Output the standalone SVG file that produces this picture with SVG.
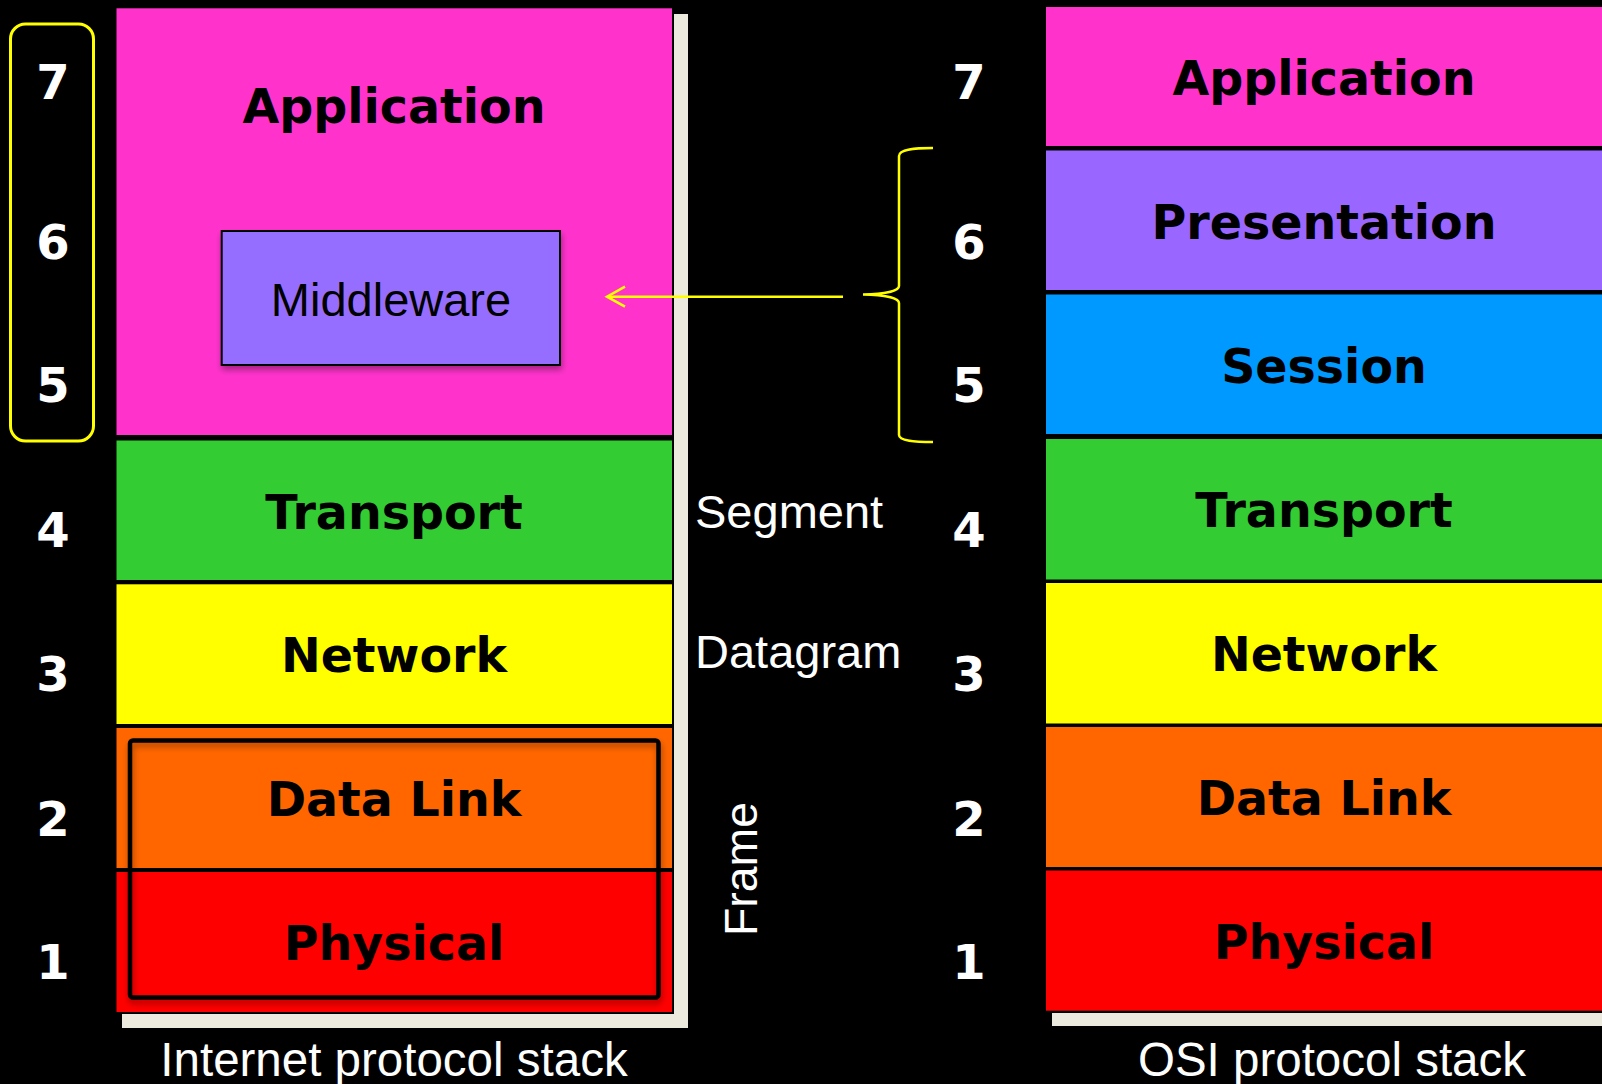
<svg xmlns="http://www.w3.org/2000/svg" width="1602" height="1084" viewBox="0 0 1602 1084">
  <defs>
    <style>
      .layer-label { font-family: "DejaVu Sans", Verdana, sans-serif; font-weight: bold; font-size: 47.5px; fill: #000; text-anchor: middle; }
      .num { font-family: "DejaVu Sans", Verdana, sans-serif; font-weight: bold; font-size: 48px; fill: #fff; text-anchor: middle; }
      .side { font-family: "Liberation Sans", Arial, sans-serif; font-size: 47px; fill: #fff; }
      .caption { font-family: "Liberation Sans", Arial, sans-serif; font-size: 47.5px; fill: #fff; text-anchor: middle; }
      .panel { fill: #ECE9DE; }
      .app { fill: #FF33CC; }
      .pres { fill: #9966FF; }
      .sess { fill: #0099FF; }
      .trans { fill: #33CC33; }
      .net { fill: #FFFF00; }
      .link { fill: #FF6600; }
      .phys { fill: #FF0000; }
      .yellow-line { fill: none; stroke: #FFFF00; stroke-width: 2.5; }
    </style>
    <filter id="shadow" x="-10%" y="-10%" width="120%" height="130%">
      <feDropShadow dx="1" dy="4" stdDeviation="3" flood-color="#000" flood-opacity="0.35"/>
    </filter>
    <marker id="open-arrow" markerUnits="userSpaceOnUse" markerWidth="24" markerHeight="24" viewBox="-20 -12 24 24" refX="0" refY="0" orient="auto">
      <path d="M -18 -10 L 0 0 L -18 10" fill="none" stroke="#FFFF00" stroke-width="2.5"/>
    </marker>
  </defs>

  <rect width="1602" height="1084" fill="#000"/>

  <!-- Internet protocol stack -->
  <g id="internet-stack">
    <rect class="panel" x="122" y="14" width="566" height="1014"/>
    <!-- black backing shows through as the rules between layers -->
    <rect x="114.5" y="6.5" width="559.5" height="1007.5" fill="#000"/>
    <g id="inet-application">
      <rect class="app" x="116.5" y="8.3" width="555.5" height="426.7"/>
      <text class="layer-label" x="394" y="123">Application</text>
    </g>
    <g id="middleware">
      <rect x="221.7" y="231" width="338.3" height="134" fill="#966EFF" stroke="#000" stroke-width="2" filter="url(#shadow)"/>
      <text x="391" y="316" font-family="'Liberation Sans', Arial, sans-serif" font-size="47" fill="#000" text-anchor="middle">Middleware</text>
    </g>
    <g id="inet-transport">
      <rect class="trans" x="116.5" y="440.5" width="555.5" height="139.5"/>
      <text class="layer-label" x="394" y="528.5">Transport</text>
    </g>
    <g id="inet-network">
      <rect class="net" x="116.5" y="584.3" width="555.5" height="139.7"/>
      <text class="layer-label" x="394" y="672.3">Network</text>
    </g>
    <g id="inet-datalink">
      <rect class="link" x="116.5" y="728" width="555.5" height="140"/>
      <text class="layer-label" x="394" y="816">Data Link</text>
    </g>
    <g id="inet-physical">
      <rect class="phys" x="116.5" y="872" width="555.5" height="140"/>
      <text class="layer-label" x="394" y="960">Physical</text>
    </g>
    <g id="host-to-network">
      <rect x="130" y="740.5" width="528.5" height="257" rx="3" fill="none" stroke="#000" stroke-width="4.5" filter="url(#shadow)"/>
    </g>
    <text class="caption" x="394" y="1076">Internet protocol stack</text>
  </g>

  <!-- Layer numbers, left -->
  <g id="left-numbers">
    <rect x="10.5" y="24" width="83" height="417" rx="15" fill="none" stroke="#FFFF00" stroke-width="3"/>
    <text class="num" x="53" y="98.5">7</text>
    <text class="num" x="53" y="258.5">6</text>
    <text class="num" x="53" y="402.3">5</text>
    <text class="num" x="53" y="546.5">4</text>
    <text class="num" x="53" y="691">3</text>
    <text class="num" x="53" y="836">2</text>
    <text class="num" x="53" y="979">1</text>
  </g>

  <!-- PDU names -->
  <g id="pdu-labels">
    <text class="side" x="695" y="528">Segment</text>
    <text class="side" x="695" y="668">Datagram</text>
    <text class="side" transform="translate(757 936) rotate(-90)" font-size="48" textLength="134" lengthAdjust="spacingAndGlyphs">Frame</text>
  </g>

  <!-- Layer numbers, right -->
  <g id="right-numbers">
    <text class="num" x="969" y="98.5">7</text>
    <text class="num" x="969" y="258.5">6</text>
    <text class="num" x="969" y="402.3">5</text>
    <text class="num" x="969" y="546.5">4</text>
    <text class="num" x="969" y="691">3</text>
    <text class="num" x="969" y="836">2</text>
    <text class="num" x="969" y="979">1</text>
  </g>

  <!-- OSI protocol stack -->
  <g id="osi-stack">
    <rect class="panel" x="1052" y="13" width="550" height="1013"/>
    <rect x="1044" y="5" width="558" height="1008" fill="#000"/>
    <g id="osi-application">
      <rect class="app" x="1046" y="7" width="556" height="139"/>
      <text class="layer-label" x="1324" y="95">Application</text>
    </g>
    <g id="osi-presentation">
      <rect class="pres" x="1046" y="150.5" width="556" height="139.5"/>
      <text class="layer-label" x="1324" y="238.5">Presentation</text>
    </g>
    <g id="osi-session">
      <rect class="sess" x="1046" y="294.5" width="556" height="139.5"/>
      <text class="layer-label" x="1324" y="382.5">Session</text>
    </g>
    <g id="osi-transport">
      <rect class="trans" x="1046" y="439" width="556" height="140.5"/>
      <text class="layer-label" x="1324" y="527.3">Transport</text>
    </g>
    <g id="osi-network">
      <rect class="net" x="1046" y="583" width="556" height="140.5"/>
      <text class="layer-label" x="1324" y="671.3">Network</text>
    </g>
    <g id="osi-datalink">
      <rect class="link" x="1046" y="727" width="556" height="140"/>
      <text class="layer-label" x="1324" y="815">Data Link</text>
    </g>
    <g id="osi-physical">
      <rect class="phys" x="1046" y="870.5" width="556" height="140.2"/>
      <text class="layer-label" x="1324" y="958.6">Physical</text>
    </g>
    <text class="caption" x="1332" y="1076">OSI protocol stack</text>
  </g>

  <!-- Brace grouping layers 5 and 6 -->
  <g id="session-presentation-brace">
    <path class="yellow-line" d="M 933 148 C 915 148 899 149 899 156 L 899 286 C 899 291 885 294 863 294.5 C 885 295 899 298 899 303 L 899 435 C 899 441 915 442 933 442"/>
  </g>

  <!-- Connectors -->
  <g id="connectors">
    <line class="yellow-line" x1="843" y1="296.7" x2="607" y2="296.7" marker-end="url(#open-arrow)"/>
  </g>
</svg>
